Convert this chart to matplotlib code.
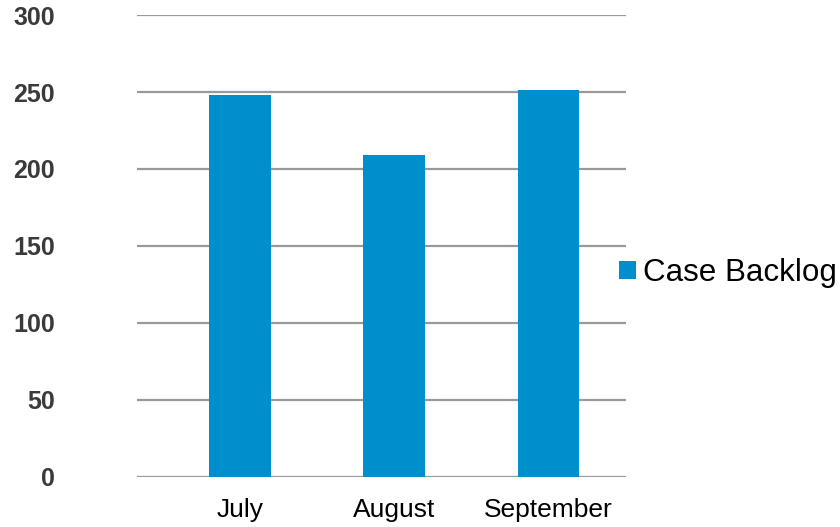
import matplotlib.pyplot as plt

plt.rcParams['font.family'] = ['Liberation Sans', 'DejaVu Sans']

# data
months = ['July', 'August', 'September']
backlog = [248, 209, 251]
y_ticks = [0, 50, 100, 150, 200, 250, 300]

fig = plt.figure(figsize=(8.4, 5.27), dpi=100)
ax = fig.add_axes([0.163, 0.0954, 0.582, 0.876])

x = range(len(months))
ax.bar(x, backlog, width=0.40, color='#008fcd', label='Case Backlog', zorder=2)

ax.set_ylim(0, 300)
ax.set_xlim(-0.667, 2.5)
ax.set_yticks(y_ticks)
ax.set_xticks(list(x))
ax.set_xticklabels(months, fontsize=19)
ax.set_yticklabels([str(v) for v in y_ticks], fontsize=18, color='#3a3a3a', fontweight='bold')

ax.grid(axis='y', color='#999999', linewidth=1.6, zorder=0)
ax.tick_params(axis='y', length=0, pad=59)
ax.tick_params(axis='x', length=0, pad=15.5)
for s in ax.spines.values():
    s.set_visible(False)

fig.legend(loc='center left', bbox_to_anchor=(619 / 840, 1 - 273 / 527),
           frameon=False, fontsize=22.6, borderpad=0, borderaxespad=0,
           handlelength=0.54, handleheight=0.54, handletextpad=0.22)

fig.savefig('out.png', dpi=100)
